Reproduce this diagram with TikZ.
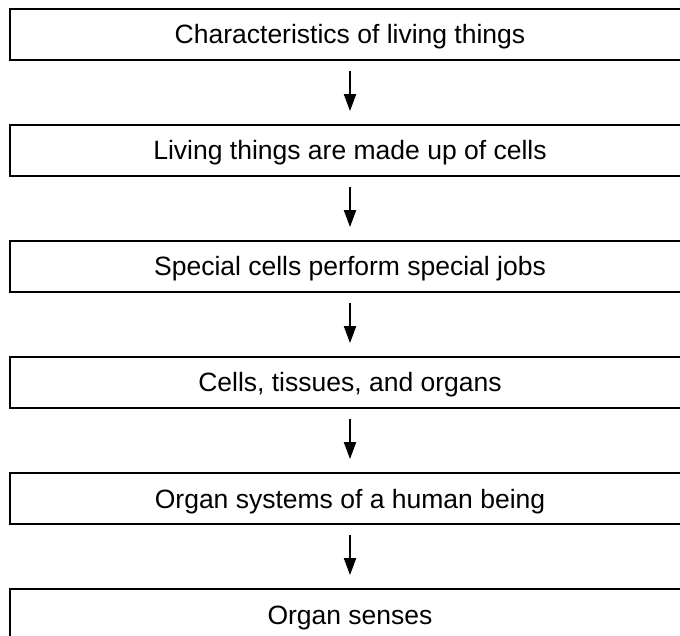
\documentclass[tikz,border=0pt]{standalone}
\usepackage{fontspec}
\setmainfont{Liberation Sans}
\usetikzlibrary{arrows.meta}
\begin{document}
\begin{tikzpicture}[x=1pt,y=1pt,
  box/.style={draw, line width=1.8pt, minimum width=680pt, minimum height=51pt,
    inner sep=0pt, text height=19pt, text depth=0pt,
    font=\fontsize{26.5}{30}\selectfont},
  arr/.style={line width=2pt, -{Triangle[length=17pt,width=12pt]}}]
\useasboundingbox (0,0) rectangle (680,635);
\clip (0,0) rectangle (680,635);
\node[box] (b1) at (350,600.5) {Characteristics of living things};
\node[box] (b2) at (350,484.5) {Living things are made up of cells};
\node[box] (b3) at (350,368.5) {Special cells perform special jobs};
\node[box] (b4) at (350,252.5) {Cells, tissues, and organs};
\node[box] (b5) at (350,136.5) {Organ systems of a human being};
\node[box] (b6) at (350,20.5) {Organ senses};
\draw[arr] ([yshift=-10pt]b1.south) -- ([yshift=13pt]b2.north);
\draw[arr] ([yshift=-10pt]b2.south) -- ([yshift=13pt]b3.north);
\draw[arr] ([yshift=-10pt]b3.south) -- ([yshift=13pt]b4.north);
\draw[arr] ([yshift=-10pt]b4.south) -- ([yshift=13pt]b5.north);
\draw[arr] ([yshift=-10pt]b5.south) -- ([yshift=13pt]b6.north);
\end{tikzpicture}
\end{document}
